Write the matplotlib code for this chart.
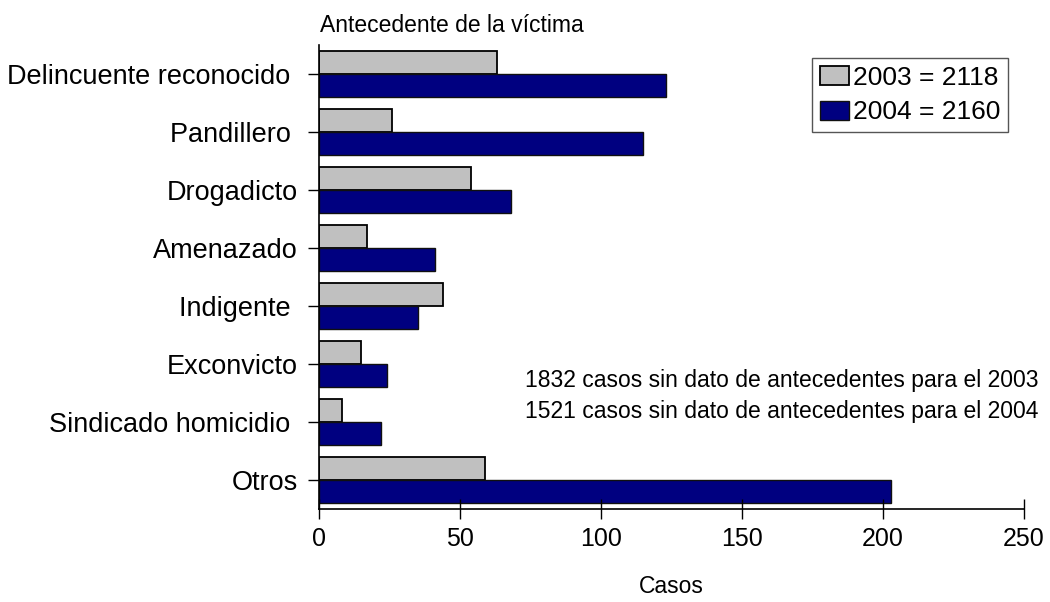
import matplotlib
matplotlib.use("Agg")
import matplotlib.pyplot as plt
import numpy as np

categories = ["Delincuente reconocido ", "Pandillero ", "Drogadicto", "Amenazado",
              "Indigente ", "Exconvicto", "Sindicado homicidio ", "Otros"]
casos_2003 = [63, 26, 54, 17, 44, 15, 8, 59]
casos_2004 = [123, 115, 68, 41, 35, 24, 22, 203]
legend_labels = ["2003 = 2118", "2004 = 2160"]
notes = ["1832 casos sin dato de antecedentes para el 2003",
         "1521 casos sin dato de antecedentes para el 2004"]
xticks = [0, 50, 100, 150, 200, 250]

plt.rcParams['font.family'] = ['Liberation Sans', 'DejaVu Sans']

fig = plt.figure(figsize=(10.5, 6.02), dpi=100)
ax = fig.add_axes([319 / 1050, 1 - 509 / 602, 705 / 1050, 464 / 602])

y = np.arange(len(categories))
h = 0.4
ax.barh(y - h / 2, casos_2003, height=h, color='#C0C0C0', edgecolor='black',
        linewidth=1.3, label=legend_labels[0])
ax.barh(y + h / 2, casos_2004, height=h, color='#000080', edgecolor='#101010',
        linewidth=1.0, label=legend_labels[1])

ax.set_ylim(len(categories) - 0.5, -0.5)
ax.set_xlim(0, 250)
ax.set_yticks(y)
ax.set_yticklabels(categories, fontsize=19.5)
ax.set_xticks(xticks)
ax.set_xticklabels([str(t) for t in xticks], fontsize=18)

for s in ['top', 'right']:
    ax.spines[s].set_visible(False)
for s in ['left', 'bottom']:
    ax.spines[s].set_linewidth(1.2)
ax.tick_params(axis='y', direction='out', length=8, width=1, pad=7)
ax.tick_params(axis='x', direction='inout', length=14, width=1, pad=6)

ax.set_xlabel("Casos", fontsize=16.5, labelpad=17)
fig.text(320 / 1050, 1 - 25 / 602, "Antecedente de la víctima", fontsize=16.5,
         ha='left', va='center')

for i, note in enumerate(notes):
    ax.text(1.02, 0.276 - i * 0.065, note, transform=ax.transAxes, fontsize=16.5,
            ha='right', va='center')

leg = ax.legend(loc='upper right', bbox_to_anchor=(1008 / 1050, 1 - 58 / 602),
                bbox_transform=fig.transFigure, fontsize=19, fancybox=False,
                shadow=False, framealpha=1, edgecolor='#555555',
                handlelength=1.1, handleheight=0.75, handletextpad=0.15,
                borderpad=0.3, labelspacing=0.4, borderaxespad=0)
leg.get_frame().set_linewidth(1.0)

fig.savefig("out.png", dpi=100)
